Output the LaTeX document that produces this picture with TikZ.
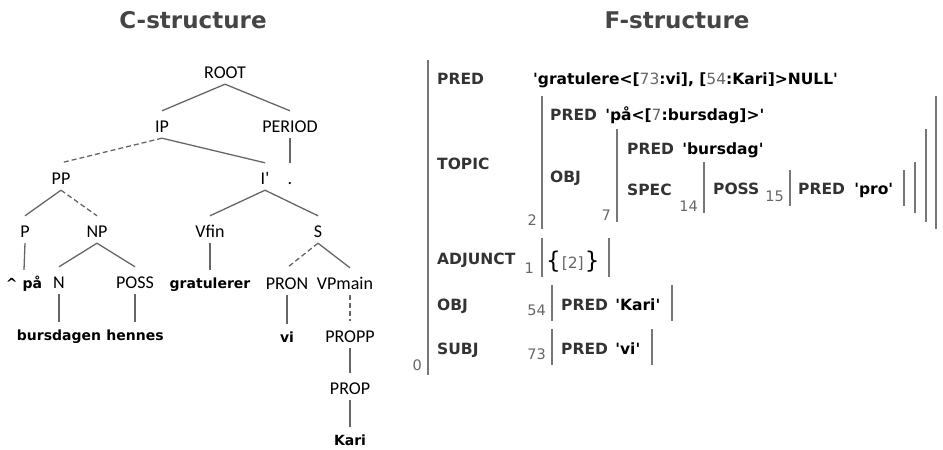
\documentclass[tikz,border=0pt]{standalone}
\usepackage{fontspec}
\setmainfont{DejaVu Sans}
\newfontfamily\treefont{Carlito}
\usepackage{xcolor}
\usetikzlibrary{positioning}
\definecolor{treegray}{HTML}{666666}
\definecolor{bargray}{HTML}{777777}
\definecolor{attrgray}{HTML}{333333}
\definecolor{idgray}{HTML}{666666}
\definecolor{titlegray}{HTML}{454545}
\newcommand{\tq}{\textquotesingle}
\newcommand{\fnum}[1]{{\mdseries\textcolor{idgray}{#1}}}
\tikzset{
	x=1pt, y=-1pt,
	every edge/.style={draw=treegray, line width=1.3pt},
	gapped/.style={dash pattern=on 5pt off 3pt},
}

\begin{document}
\begin{tikzpicture}
	[% STYLES
		% The title style is used for the two headings
		title/.style={font=\bfseries\fontsize{23}{26}\selectfont, text=titlegray,
				anchor=base, inner sep=0pt},
		% The cat style is used for the categories of the c-structure
		cat/.style={font=\treefont\fontsize{18}{20}\selectfont, anchor=base,
				inner xsep=0pt, inner ysep=6pt, text height=15pt, text depth=0pt},
		% The word style is used for the words of the sentence
		word/.style={cat, font=\bfseries\fontsize{14}{16}\selectfont, text height=12pt},
		% The attr style is used for the attributes of the f-structure
		attr/.style={font=\bfseries\fontsize{15.5}{17}\selectfont, text=attrgray,
				anchor=base west, inner sep=0pt},
		val/.style={attr, text=black},
		% The fid style is used for the index of each f-structure
		fid/.style={font=\fontsize{14.5}{16}\selectfont, text=idgray,
				anchor=base east, inner sep=0pt},
		fbar/.style={draw=bargray, line width=2pt}]

	\useasboundingbox (0,0) rectangle (943,450);

	% Titles
	\node [title] (ctitle) at (193,28) {C-structure};
	\node [title] (ftitle) at (677,28) {F-structure};

	%%%%%%%%%%%%%%%
	% C-structure

	\node [cat] (root) at (225,78) {ROOT};
	\node [cat] (ip) at (162,132) {IP};
	\node [cat] (period) at (290,132) {PERIOD};
	\node [cat] (pp) at (61,184) {PP};
	\node [cat] (ibar) at (265,184) {I\tq};
	\node [cat] (dot) at (290,184) {.};
	\node [cat] (p) at (25,237) {P};
	\node [cat] (np) at (97,237) {NP};
	\node [cat] (vfin) at (210,237) {Vfin};
	\node [cat] (s) at (318,237) {S};
	\node [word] (paa) at (24,288) {\textasciicircum{} på};
	\node [cat] (n) at (59,288) {N};
	\node [cat] (poss) at (135,288) {POSS};
	\node [word] (gratulerer) at (210,288) {gratulerer};
	\node [cat] (pron) at (287,289) {PRON};
	\node [cat] (vpmain) at (345,289) {VPmain};
	\node [word] (bursdagen) at (59,340) {bursdagen};
	\node [word] (hennes) at (135,340) {hennes};
	\node [word] (vi) at (287,342) {vi};
	\node [cat] (propp) at (350,342) {PROPP};
	\node [cat] (prop) at (350,394) {PROP};
	\node [word] (kari) at (350,445) {Kari};

	\path
	(root.south) edge (ip.north)
	(root.south) edge (period.north)
	(ip.south) edge[gapped] (pp.north)
	(ip.south) edge (ibar.north)
	(period.south) edge (dot.north)
	(pp.south) edge (p.north)
	(pp.south) edge[gapped] (np.north)
	(ibar.south) edge (vfin.north)
	(ibar.south) edge (s.north)
	(p.south) edge (paa.north)
	(np.south) edge (n.north)
	(np.south) edge (poss.north)
	(vfin.south) edge (gratulerer.north)
	(s.south) edge[gapped] (pron.north)
	(s.south) edge (vpmain.north -| propp.north)
	(n.south) edge (bursdagen.north)
	(poss.south) edge (hennes.north)
	(pron.south) edge (vi.north)
	(vpmain.south -| propp.north) edge[gapped] (propp.north)
	(propp.south) edge (prop.north)
	(prop.south) edge (kari.north);

	%%%%%%%%%%%%%%%
	% F-structure

	% OUTER
	\draw [fbar] (428,60) -- (428,375);
	\node [fid] (f0) at (422,370) {0};
	\node [attr] (pred0) at (437,84) {PRED};
	\node [val] (gratulere) at (533,84)
	{\tq gratulere<[\fnum{73}:vi], [\fnum{54}:Kari]>NULL\tq};

	% TOPIC
	\node [attr] (topic) at (437,169) {TOPIC};
	\draw [fbar] (542,96) -- (542,229);
	\draw [fbar] (936,96) -- (936,229);
	\node [fid] (f2) at (537,225) {2};
	\node [attr] (pred2) at (550,120) {PRED};
	\node [val, base right=8pt of pred2] (paa2) {\tq på<[\fnum{7}:bursdag]>\tq};
	\node [attr] (obj2) at (550,182) {OBJ};
	\draw [fbar] (617,129) -- (617,222);
	\draw [fbar] (926,129) -- (926,222);
	\node [fid] (f7) at (611,220) {7};
	\node [attr] (pred7) at (627,154) {PRED};
	\node [val, base right=8pt of pred7] (bursdag) {\tq bursdag\tq};
	\node [attr] (spec7) at (627,195) {SPEC};
	\node [fid] (f14) at (698,211) {14};
	\draw [fbar] (704,162) -- (704,213);
	\draw [fbar] (915,162) -- (915,213);
	\node [attr] (poss14) at (713,194) {POSS};
	\node [fid] (f15) at (784,201) {15};
	\draw [fbar] (790,170) -- (790,206);
	\draw [fbar] (904,170) -- (904,206);
	\node [attr] (pred15) at (798,194) {PRED};
	\node [val, base right=9pt of pred15] (pro) {\tq pro\tq};

	% ADJUNCT
	\node [attr] (adjunct) at (437,264) {ADJUNCT};
	\node [fid] (f1) at (534,273) {1};
	\draw [fbar] (542,238) -- (542,277);
	\draw [fbar] (609,238) -- (609,277);
	\node [anchor=base west, inner sep=0pt, font=\fontsize{23}{25}\selectfont]
	(adjset) at (546,268) {\{\fnum{\fontsize{15.5}{17}\selectfont\kern1pt[2]\kern1pt}\}};

	% OBJ
	\node [attr] (obj0) at (437,310) {OBJ};
	\node [fid] (f54) at (546,315) {54};
	\draw [fbar] (552,285) -- (552,321);
	\draw [fbar] (672,285) -- (672,321);
	\node [attr] (pred54) at (561,310) {PRED};
	\node [val, base right=7pt of pred54] (kariv) {\tq Kari\tq};

	% SUBJ
	\node [attr] (subj0) at (437,354) {SUBJ};
	\node [fid] (f73) at (546,359) {73};
	\draw [fbar] (552,329) -- (552,365);
	\draw [fbar] (652,329) -- (652,365);
	\node [attr] (pred73) at (561,354) {PRED};
	\node [val, base right=7pt of pred73] (viv) {\tq vi\tq};

\end{tikzpicture}
\end{document}
